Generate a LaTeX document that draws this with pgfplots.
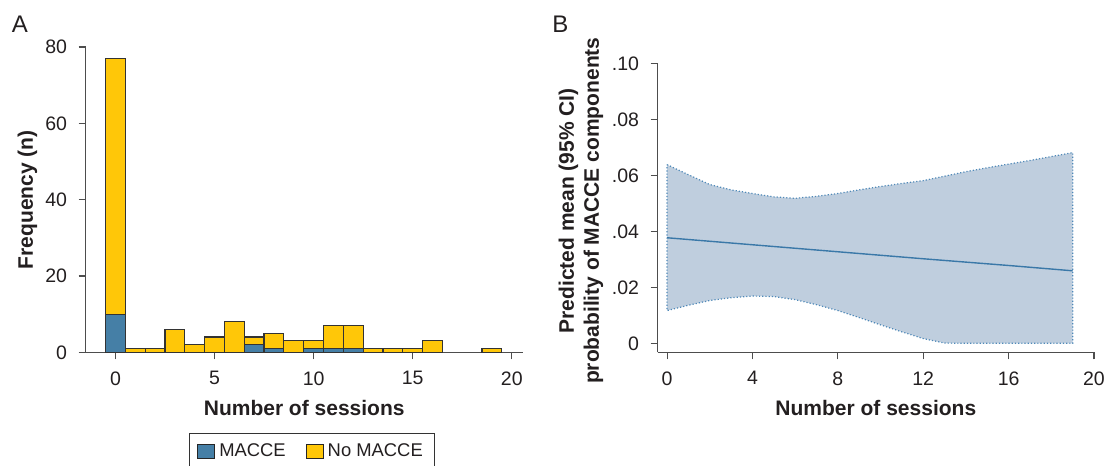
\documentclass[border=0pt]{standalone}
\usepackage{fontspec}
\setmainfont{Liberation Sans}
\usepackage{pgfplots}
\pgfplotsset{compat=1.18}
\definecolor{maccebl}{HTML}{457FA6}
\definecolor{noyel}{HTML}{FFC708}
\definecolor{baredge}{HTML}{333333}
\definecolor{axgray}{HTML}{4D4D4D}
\definecolor{txt}{HTML}{231F20}
\definecolor{bandfill}{HTML}{BFCEDE}
\definecolor{bandedge}{HTML}{4F89B8}
\definecolor{meanline}{HTML}{3A78A8}
\pgfplotsset{
  myaxis/.style={
    scale only axis,
    axis lines=left,
    axis line style={-, draw=axgray, line width=0.55pt},
    every tick/.style={draw=axgray, line width=0.55pt},
    major tick length=3.5pt,
    minor tick num=0,
    tick align=outside,
    enlargelimits=false,
    clip=false,
    scaled ticks=false,
    /pgf/number format/assume math mode=true,
    tick label style={font=\fontsize{9.75}{11}\selectfont, text=txt},
    xticklabel shift=2.6pt,
    yticklabel shift=2.3pt,
    label style={font=\bfseries\fontsize{10.5}{12.5}\selectfont, text=txt},
  }
}
\begin{document}
\begin{tikzpicture}
\useasboundingbox (0,0) rectangle (555pt,233pt);
\node[anchor=base west, font=\fontsize{12}{14}\selectfont, text=txt, inner sep=0pt] at (5.75pt,216.5pt) {A};
\node[anchor=base west, font=\fontsize{12}{14}\selectfont, text=txt, inner sep=0pt] at (276pt,216.5pt) {B};
% Panel A
\begin{axis}[myaxis,
  at={(42.85pt,56.85pt)}, anchor=south west,
  width=218.5pt, height=152.65pt,
  xmin=-1.5, xmax=20.55, ymin=0, ymax=80,
  xtick={0,5,10,15,20}, ytick={0,20,40,60,80},
  xlabel={Number of sessions},
  ylabel={Frequency (n)},
  xlabel style={at={(axis description cs:0.5,-0.2077)}, anchor=base},
  ylabel style={at={(axis description cs:-0.1332,0.5)}, anchor=center},
  legend columns=2,
  legend style={at={(0.518,-0.2643)}, anchor=north, draw=black!80, line width=0.5pt,
    font=\fontsize{9.2}{11}\selectfont, text=txt, inner xsep=4pt, inner ysep=3pt,
    /tikz/every even column/.append style={column sep=8pt}},
  legend image code/.code={\draw[#1, draw=black!85, line width=0.5pt] (0pt,-3.3pt) rectangle (8.5pt,3.3pt);},
]
\addlegendimage{fill=maccebl}
\addlegendentry{MACCE}
\addlegendimage{fill=noyel}
\addlegendentry{No MACCE}
% total frequency (MACCE + No MACCE)
\addplot[ybar, bar width=1, bar shift=0pt, fill=noyel, draw=baredge, line width=0.6pt, forget plot] coordinates {
(0,77) (1,1) (2,1) (3,6) (4,2) (5,4) (6,8) (7,4) (8,5) (9,3) (10,3) (11,7) (12,7) (13,1) (14,1) (15,1) (16,3) (19,1)
};
% MACCE frequency
\addplot[ybar, bar width=1, bar shift=0pt, fill=maccebl, draw=baredge, line width=0.6pt, forget plot] coordinates {
(0,10) (7,2) (8,1) (10,1) (11,1) (12,1)
};
\end{axis}
% Panel B
\begin{axis}[myaxis,
  at={(328.85pt,56.85pt)}, anchor=south west,
  width=218.15pt, height=144.5pt,
  xmin=-0.44, xmax=20, ymin=-0.0032, ymax=0.1,
  xtick={0,4,8,12,16,20},
  ytick={0,0.02,0.04,0.06,0.08,0.1},
  yticklabels={0,.02,.04,.06,.08,.10},
  xlabel={Number of sessions},
  ylabel={Predicted mean (95\% CI)\\probability of MACCE components},
  xlabel style={at={(axis description cs:0.5,-0.2194)}, anchor=base},
  ylabel style={at={(axis description cs:-0.1758,0.49)}, anchor=center, align=center},
]
\addplot[fill=bandfill, draw=bandedge, densely dotted, line width=0.6pt] coordinates {
(0,0.0638) (1,0.0602) (2,0.0567) (3,0.0548) (4,0.0535) (5,0.0523) (6,0.0518) (7,0.0525)
(8,0.0535) (9,0.0548) (10,0.0560) (11,0.0571) (12,0.0581) (13,0.0597) (14,0.0613)
(15,0.0627) (16,0.0640) (17,0.0653) (18,0.0667) (19,0.0681)
(19,0) (18,0) (17,0) (16,0) (15,0) (14,0) (13,0.0001) (12,0.0017) (11,0.0041)
(10,0.0066) (9,0.0092) (8,0.0117) (7,0.0138) (6,0.0156) (5,0.0167) (4,0.0169)
(3,0.0163) (2,0.0153) (1,0.0136) (0,0.0117)
} -- cycle;
\addplot[meanline, line width=0.7pt] coordinates {
(0,0.0377) (4,0.0352) (8,0.0327) (12,0.0302) (16,0.0278) (19,0.0259)
};
\end{axis}
\end{tikzpicture}
\end{document}
